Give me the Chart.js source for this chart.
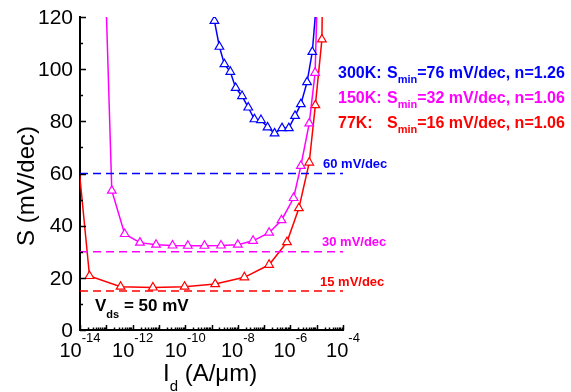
<!DOCTYPE html>
<html>
<head>
<meta charset="utf-8">
<script src="https://cdn.jsdelivr.net/npm/chart.js@4.4.1/dist/chart.umd.min.js"></script>
<style>
  html, body { margin: 0; padding: 0; background: #fff; }
  #wrap { width: 571px; height: 392px; }
</style>
</head>
<body>
<div id="wrap"><canvas id="chart" width="571" height="392"></canvas></div>
<script>
// Data: drain current (A/um) vs subthreshold swing (mV/dec)
const id300 = [1.29e-9, 2.0e-9, 3.1e-9, 5.2e-9, 8.3e-9, 1.45e-8, 2.5e-8, 4.3e-8, 7.6e-8, 1.35e-7, 2.5e-7, 4.8e-7, 8.7e-7, 1.5e-6, 2.5e-6, 4.3e-6, 6.8e-6, 1.12e-5];
const s300 = [118.5, 108.6, 101.9, 99.0, 92.8, 89.7, 85.3, 80.8, 80.5, 77.7, 75.4, 77.4, 77.4, 82.1, 86.6, 95.0, 106.6, 133];

const id150 = [9.3e-14, 1.62e-13, 5.0e-13, 1.9e-12, 7.8e-12, 3.3e-11, 1.26e-10, 5.4e-10, 2.3e-9, 1.0e-8, 3.8e-8, 1.55e-7, 4.6e-7, 1.32e-6, 2.5e-6, 5.2e-6, 8.7e-6, 1.12e-5];
const s150 = [133, 53.4, 36.8, 33.5, 32.7, 32.4, 32.3, 32.3, 32.4, 32.7, 34.2, 37.3, 42.1, 50.6, 62.9, 79.2, 98.6, 138];

const id77 = [6.3e-15, 2.3e-14, 3.5e-13, 5.9e-12, 9.5e-11, 1.38e-9, 1.78e-8, 1.55e-7, 7.4e-7, 2.1e-6, 5.2e-6, 8.9e-6, 1.58e-5, 1.7e-5];
const s77 = [79, 20.7, 16.6, 16.3, 16.6, 17.6, 20.2, 25.0, 33.7, 46.7, 64.2, 86.2, 111.4, 140];

// reference slopes
const refLevels = [60, 30, 15];
const refLabels = ["60 mV/dec", "30 mV/dec", "15 mV/dec"];
const xRange = [1e-14, 1e-4];

const yTicks = [0, 20, 40, 60, 80, 100, 120];
const xTickExps = [-14, -12, -10, -8, -6, -4];

const legendRows = [
  { head: "300K: ", smin: "=76 mV/dec, n=1.26", color: "#0000ff" },
  { head: "150K: ", smin: "=32 mV/dec, n=1.06", color: "#ff00ff" },
  { head: "77K:", smin: "=16 mV/dec, n=1.06", color: "#ff0000" }
];

const BLUE = "#0000ff", MAG = "#ff00ff", RED = "#ff0000";
const FONT = "Arial, 'Liberation Sans', sans-serif";

function pts(xs, ys) {
  return xs.map((x, i) => ({ x: x, y: ys[i] }));
}

function curve(xs, ys, color) {
  return {
    data: pts(xs, ys),
    borderColor: color,
    borderWidth: 1.5,
    backgroundColor: "#fff",
    pointStyle: "triangle",
    pointRadius: 5,
    pointBorderWidth: 1.2,
    pointBorderColor: color,
    pointBackgroundColor: "#fff",
    tension: 0
  };
}

function refLine(level, color) {
  return {
    data: pts(xRange, [level, level]),
    borderColor: color,
    borderWidth: 1.5,
    borderDash: [8, 5],
    pointRadius: 0,
    tension: 0
  };
}

// ticks, labels and texts drawn on top
const decorations = {
  id: "decorations",
  afterDraw(chart) {
    const ctx = chart.ctx;
    const xs = chart.scales.x, ys = chart.scales.y;
    const area = chart.chartArea;
    ctx.save();
    ctx.strokeStyle = "#000";
    ctx.lineWidth = 1.5;

    // y ticks (inward)
    for (let v = 0; v <= 120; v += 10) {
      const py = Math.round(ys.getPixelForValue(v)) + 0.5;
      const len = v % 20 === 0 ? 6 : 3;
      ctx.beginPath();
      ctx.moveTo(area.left, py);
      ctx.lineTo(area.left + len, py);
      ctx.stroke();
    }
    // x ticks (inward), majors per decade, minors 2..9
    for (let e = -14; e <= -4; e++) {
      const px = Math.round(xs.getPixelForValue(Math.pow(10, e))) + 0.5;
      ctx.beginPath();
      ctx.moveTo(px, area.bottom);
      ctx.lineTo(px, area.bottom - 5);
      ctx.stroke();
      if (e < -4) {
        for (let m = 2; m <= 9; m++) {
          const mx = Math.round(xs.getPixelForValue(m * Math.pow(10, e))) + 0.5;
          ctx.beginPath();
          ctx.moveTo(mx, area.bottom);
          ctx.lineTo(mx, area.bottom - 2.5);
          ctx.stroke();
        }
      }
    }

    ctx.fillStyle = "#000";
    // y tick labels
    ctx.font = "21px " + FONT;
    ctx.textAlign = "right";
    ctx.textBaseline = "middle";
    yTicks.forEach(v => {
      ctx.fillText(String(v), 73, ys.getPixelForValue(v) + 1);
    });

    // x tick labels 10^e
    ctx.textAlign = "left";
    ctx.textBaseline = "alphabetic";
    xTickExps.forEach(e => {
      const px = xs.getPixelForValue(Math.pow(10, e));
      ctx.font = "20px " + FONT;
      const w1 = ctx.measureText("10").width;
      ctx.font = "13px " + FONT;
      const w2 = ctx.measureText(String(e)).width;
      const x0 = px - (w1 + w2) / 2;
      ctx.font = "20px " + FONT;
      ctx.fillText("10", x0, 357);
      ctx.font = "13px " + FONT;
      ctx.fillText(String(e), x0 + w1, 342);
    });

    // x title
    let tx = 163;
    ctx.font = "24px " + FONT;
    ctx.fillText("I", tx, 381);
    tx += ctx.measureText("I").width;
    ctx.font = "15px " + FONT;
    ctx.fillText("d", tx, 391);
    tx += ctx.measureText("d").width;
    ctx.font = "24px " + FONT;
    ctx.fillText(" (A/\u03bcm)", tx, 381);

    // y title
    ctx.save();
    ctx.translate(34, 186);
    ctx.rotate(-Math.PI / 2);
    ctx.textAlign = "center";
    ctx.font = "24px " + FONT;
    ctx.fillText("S (mV/dec)", 0, 0);
    ctx.restore();

    // Vds label
    tx = 95;
    ctx.font = "bold 17px " + FONT;
    ctx.fillText("V", tx, 311);
    tx += ctx.measureText("V").width;
    ctx.font = "bold 11px " + FONT;
    ctx.fillText("ds", tx, 318);
    tx += ctx.measureText("ds").width;
    ctx.font = "bold 17px " + FONT;
    ctx.fillText(" = 50 mV", tx, 311);

    // reference slope labels
    ctx.font = "bold 13px " + FONT;
    const refColors = [BLUE, MAG, RED];
    const refPos = [[323, 168], [322, 246], [320, 286]];
    refLabels.forEach((t, i) => {
      ctx.fillStyle = refColors[i];
      ctx.fillText(t, refPos[i][0], refPos[i][1]);
    });

    // legend text
    legendRows.forEach((r, i) => {
      const by = 78 + i * 25;
      ctx.fillStyle = r.color;
      ctx.font = "bold 16px " + FONT;
      ctx.fillText(r.head, 338, by);
      let lx = 387;
      ctx.fillText("S", lx, by);
      lx += ctx.measureText("S").width;
      ctx.font = "bold 11px " + FONT;
      ctx.fillText("min", lx, by + 5);
      lx += ctx.measureText("min").width;
      ctx.font = "bold 16px " + FONT;
      ctx.fillText(r.smin, lx, by);
    });

    ctx.restore();
  }
};

new Chart(document.getElementById("chart"), {
  type: "line",
  data: {
    datasets: [
      refLine(refLevels[0], BLUE),
      refLine(refLevels[1], MAG),
      refLine(refLevels[2], RED),
      curve(id300, s300, BLUE),
      curve(id150, s150, MAG),
      curve(id77, s77, RED)
    ]
  },
  options: {
    responsive: false,
    animation: false,
    layout: { padding: { left: 0, right: 228, top: 17, bottom: 0 } },
    plugins: { legend: { display: false }, tooltip: { enabled: false } },
    scales: {
      x: {
        type: "logarithmic",
        min: xRange[0],
        max: xRange[1],
        ticks: { display: false },
        grid: { display: false, drawTicks: false },
        border: { display: true, color: "#000", width: 2 },
        afterFit: s => { s.height = 62; }
      },
      y: {
        type: "linear",
        min: 0,
        max: 120,
        ticks: { display: false },
        grid: { display: false, drawTicks: false },
        border: { display: true, color: "#000", width: 2 },
        afterFit: s => { s.width = 80; }
      }
    }
  },
  plugins: [decorations]
});
</script>
</body>
</html>
